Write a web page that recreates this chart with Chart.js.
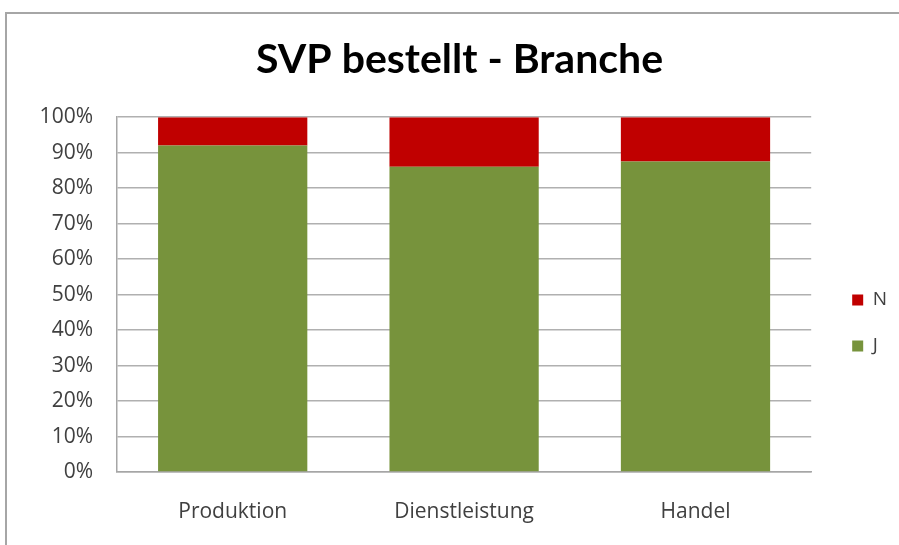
<!DOCTYPE html>
<html>
<head>
<meta charset="utf-8">
<script src="https://cdn.jsdelivr.net/npm/chart.js@4"></script>
<style>
  body { margin: 0; background: #fff; overflow: hidden; }
  .frame { position: absolute; left: 5px; top: 12px; width: 1000px; height: 1000px; border: 2px solid #a6a6a6; }
  .wrap { position: absolute; left: 0; top: 0; width: 899px; height: 545px; }
</style>
</head>
<body>
<div class="frame"></div>
<div class="wrap"><canvas id="chart" width="899" height="545"></canvas></div>
<script>
// daten
const categories = ['Produktion', 'Dienstleistung', 'Handel'];
const valuesJ = [92, 86, 87.5];
const valuesN = [8, 14, 12.5];
const yTicks = [0, 10, 20, 30, 40, 50, 60, 70, 80, 90, 100];

const FONT = '"Open Sans", sans-serif';
const TITLE_FONT = 'Lato, "Open Sans", sans-serif';

// titel + legende etwas verschieben (wie im Original)
const boxShift = {
  id: 'boxShift',
  afterLayout(chart) {
    const l = chart.legend;
    l.left += 14; l.right += 14;
    l.top += 57; l.bottom += 57;
    const t = chart.titleBlock;
    t.left += 18; t.right += 18;
  }
};

new Chart(document.getElementById('chart'), {
  type: 'bar',
  data: {
    labels: categories,
    datasets: [
      { label: 'J', data: valuesJ, backgroundColor: '#77933C', categoryPercentage: 1, barPercentage: 0.645 },
      { label: 'N', data: valuesN, backgroundColor: '#C00000', categoryPercentage: 1, barPercentage: 0.645 }
    ]
  },
  options: {
    responsive: false,
    animation: false,
    layout: { padding: { left: 0, right: 16, top: 0, bottom: 13 } },
    plugins: {
      title: {
        display: true,
        text: 'SVP bestellt - Branche',
        color: '#000',
        font: { family: TITLE_FONT, size: 41, weight: 'bold' },
        padding: { top: 35, bottom: 33 }
      },
      legend: {
        position: 'right',
        reverse: true,
        labels: {
          boxWidth: 11, boxHeight: 11, padding: 27,
          color: '#404040', font: { family: FONT, size: 19 }
        }
      },
      tooltip: { enabled: false }
    },
    scales: {
      x: {
        stacked: true,
        afterFit(scale) { scale.height = 60; },
        grid: { display: false, drawTicks: false },
        border: { display: true, color: '#a6a6a6', width: 1.5 },
        ticks: { color: '#404040', padding: 27, maxRotation: 0, font: { family: FONT, size: 21 } }
      },
      y: {
        stacked: true,
        min: 0, max: 100,
        afterBuildTicks(scale) { scale.ticks = yTicks.map(v => ({ value: v })); },
        afterFit(scale) { scale.width = 117; },
        grid: { color: '#b0b0b0', lineWidth: 1.5, drawTicks: false },
        border: { display: true, color: '#a6a6a6', width: 1.5 },
        ticks: { color: '#404040', padding: 24, font: { family: FONT, size: 21 }, callback: v => v + '%' }
      }
    }
  },
  plugins: [boxShift]
});
</script>
</body>
</html>
